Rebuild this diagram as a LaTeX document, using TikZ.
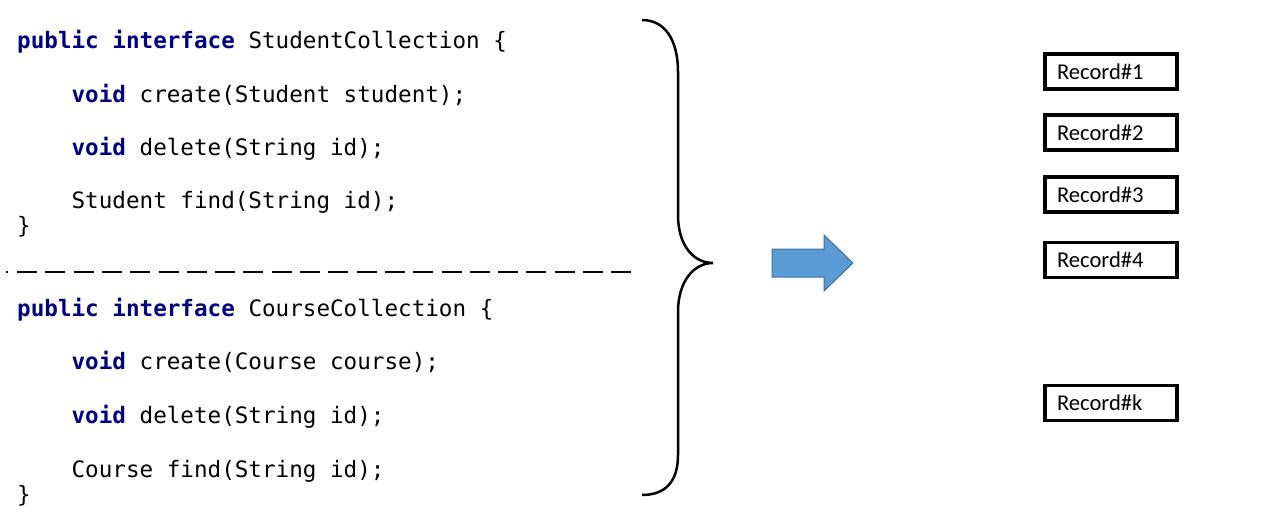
\documentclass[tikz,border=0pt]{standalone}
\usepackage{fontspec}
\newfontfamily\codefont{DejaVu Sans Mono}
\newfontfamily\recfont{Carlito}
\definecolor{kw}{HTML}{000080}
\definecolor{arrowfill}{HTML}{5B9BD5}
\definecolor{arrowline}{HTML}{41719C}
\begin{document}
\begin{tikzpicture}[x=1pt,y=-1pt,
  codeline/.style={anchor=base west,inner sep=0pt,font=\codefont\fontsize{22.6}{26}\selectfont,text=black},
  recbox/.style={draw=black,line width=3.5pt,rectangle,minimum width=132pt,minimum height=35pt,
    text width=108pt,align=left,inner xsep=12pt,inner ysep=0pt,font=\recfont\fontsize{22.6}{26}\selectfont},
  brace/.style={draw=black,line width=2.5pt},
  sepline/.style={draw=black,line width=2.7pt}]
\useasboundingbox (0,0) rectangle (1279,514);
\fill[white] (0,0) rectangle (1279,514);
% --- first interface
\node[codeline] (s1) at (17,48) {\textcolor{kw}{\bfseries public interface} StudentCollection \{};
\node[codeline] (s2) at (17,102) {\hphantom{xxxx}\textcolor{kw}{\bfseries void} create(Student student);};
\node[codeline] (s3) at (17,155) {\hphantom{xxxx}\textcolor{kw}{\bfseries void} delete(String id);};
\node[codeline] (s4) at (17,208) {\hphantom{xxxx}Student find(String id);};
\node[codeline] (s5) at (17,233) {\}};
% --- separator
\coordinate (dotA) at (6,272);
\coordinate (dotB) at (8,272);
\coordinate (dashA) at (17,272);
\coordinate (dashB) at (632,272);
\draw[sepline] (dotA) -- (dotB);
\draw[sepline,dash pattern=on 20pt off 8.3pt] (dashA) -- (dashB);
% --- second interface
\node[codeline] (c1) at (17,316) {\textcolor{kw}{\bfseries public interface} CourseCollection \{};
\node[codeline] (c2) at (17,369) {\hphantom{xxxx}\textcolor{kw}{\bfseries void} create(Course course);};
\node[codeline] (c3) at (17,423) {\hphantom{xxxx}\textcolor{kw}{\bfseries void} delete(String id);};
\node[codeline] (c4) at (17,477) {\hphantom{xxxx}Course find(String id);};
\node[codeline] (c5) at (17,502) {\}};
% --- big brace
\coordinate (bTop) at (642,20);
\coordinate (bTip) at (713,263);
\coordinate (bBot) at (642,495);
\draw[brace] (bTop) .. controls (665,20) and (678,40) .. (678,72) -- (678,215)
  .. controls (678,246) and (694,263) .. (bTip)
  .. controls (694,263) and (678,281) .. (678,312) -- (678,455)
  .. controls (678,482) and (665,495) .. (bBot);
% --- block arrow
\filldraw[fill=arrowfill,draw=arrowline,line width=1pt]
  (772,249) -- (824,249) -- (824,235) -- (853,263) -- (824,291) -- (824,277) -- (772,277) -- cycle;
% --- records
\node[recbox] (r1) at (1111,71.5) {Record\#1};
\node[recbox] (r2) at (1111,132.5) {Record\#2};
\node[recbox] (r3) at (1111,194.5) {Record\#3};
\node[recbox] (r4) at (1111,260) {Record\#4};
\node[recbox] (rk) at (1111,403) {Record\#k};
\end{tikzpicture}
\end{document}
